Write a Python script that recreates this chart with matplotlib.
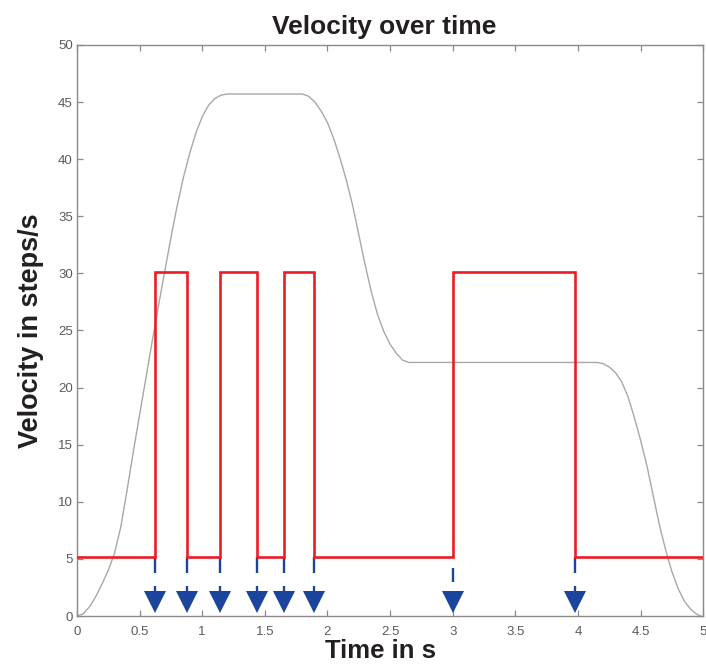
import matplotlib
matplotlib.use("Agg")
import matplotlib.pyplot as plt

# Motor velocity profile (jerk-limited ramps), read at regular steps
profile_t = [0.00, 0.05, 0.10, 0.15, 0.20, 0.25, 0.30, 0.35, 0.40, 0.45, 0.50,
             0.55, 0.60, 0.65, 0.70, 0.75, 0.80, 0.85, 0.90, 0.95, 1.00, 1.05,
             1.10, 1.15, 1.20, 1.24,
             1.80, 1.85, 1.90, 1.95, 2.00, 2.05, 2.10, 2.15, 2.20, 2.25, 2.30,
             2.35, 2.40, 2.45, 2.50, 2.55, 2.60, 2.65,
             4.15, 4.20, 4.25, 4.30, 4.35, 4.40, 4.45, 4.50, 4.55, 4.60, 4.65,
             4.70, 4.75, 4.80, 4.85, 4.90, 4.95, 4.98]
profile_v = [0.0, 0.2, 0.8, 1.7, 2.8, 4.0, 5.5, 7.8, 11.0, 14.4, 17.6,
             20.8, 24.0, 27.1, 30.1, 33.1, 35.9, 38.4, 40.5, 42.3, 43.7, 44.7,
             45.3, 45.6, 45.7, 45.7,
             45.7, 45.5, 45.0, 44.2, 43.2, 41.8, 40.1, 38.2, 36.0, 33.4, 30.8,
             28.4, 26.4, 24.9, 23.8, 23.0, 22.4, 22.2,
             22.2, 22.1, 21.8, 21.3, 20.5, 19.2, 17.4, 15.4, 13.2, 10.6, 8.0,
             5.8, 3.9, 2.4, 1.3, 0.6, 0.15, 0.0]

# Trigger signal: switching instants and its two levels
edge_times = [0.62, 0.88, 1.14, 1.44, 1.65, 1.89, 3.00, 3.98]
level_low = 5.2
level_high = 30.1
t_end = 5.0

# Event arrows at each switching instant
arrow_times = edge_times

x_ticks = [0, 0.5, 1, 1.5, 2, 2.5, 3, 3.5, 4, 4.5, 5]
x_tick_labels = ["0", "0.5", "1", "1.5", "2", "2.5", "3", "3.5", "4", "4.5", "5"]
y_ticks = [0, 5, 10, 15, 20, 25, 30, 35, 40, 45, 50]

RED = "#ec1c24"
BLUE = "#1b449c"
GRAY_LINE = "#a8a8a8"
AXIS_GRAY = "#8a8a8a"
TICK_TEXT = "#5a5a5a"
TEXT_DARK = "#231f20"

plt.rcParams["font.family"] = ["Liberation Sans", "DejaVu Sans"]
plt.rcParams["lines.scale_dashes"] = False

fig = plt.figure(figsize=(7.06, 6.66), dpi=100)
ax = fig.add_axes([0.109, 0.075, 0.887, 0.8576])

# velocity curve
ax.plot(profile_t, profile_v, color=GRAY_LINE, lw=1.0, zorder=2,
        solid_joinstyle="round")

# square trigger signal
step_x = [0.0] + edge_times + [t_end]
step_y = [level_low]
for i in range(len(edge_times)):
    step_y.append(level_high if i % 2 == 0 else level_low)
step_y.append(step_y[-1])
ax.step(step_x, step_y, where="post", color=RED, lw=1.9, zorder=4,
        solid_joinstyle="miter")

# dashed stems and triangular heads
px = 1.0 / 1.389  # one pixel in points
for t in arrow_times:
    if abs(t - 3.0) < 1e-9:
        dashes = (0, 11 * px, 14 * px, 60 * px)
    else:
        dashes = (16 * px, 13 * px, 8 * px, 60 * px)
    ax.plot([t, t], [level_low, 2.0], color=BLUE, lw=1.7, dashes=dashes,
            zorder=3, solid_capstyle="butt", dash_capstyle="butt")
    ax.plot([t], [1.2], marker="v", markersize=16.5, color=BLUE,
            markeredgewidth=0, linestyle="none", zorder=5)

ax.set_xlim(0, 5)
ax.set_ylim(0, 50)
ax.set_xticks(x_ticks)
ax.set_xticklabels(x_tick_labels)
ax.set_yticks(y_ticks)

for side in ["left", "right", "top", "bottom"]:
    ax.spines[side].set_color(AXIS_GRAY)
    ax.spines[side].set_linewidth(1.0)

ax.tick_params(axis="both", direction="in", length=4, width=0.9,
               color=AXIS_GRAY, labelcolor=TICK_TEXT, labelsize=9.5,
               top=True, right=True)
ax.tick_params(axis="x", pad=7)
ax.tick_params(axis="y", pad=3)

ax.set_title("Velocity over time", fontsize=19, fontweight="bold",
             color=TEXT_DARK, pad=8, x=0.49)
ax.set_xlabel("Time in s", fontsize=18.5, fontweight="bold", color=TEXT_DARK,
              labelpad=1)
ax.xaxis.set_label_coords(0.485, -0.041, transform=ax.transAxes)
ax.xaxis.label.set_verticalalignment("top")
ax.set_ylabel("Velocity in steps/s", fontsize=19.5, fontweight="bold",
              color=TEXT_DARK, labelpad=10)

fig.savefig("out.png", dpi=100)
